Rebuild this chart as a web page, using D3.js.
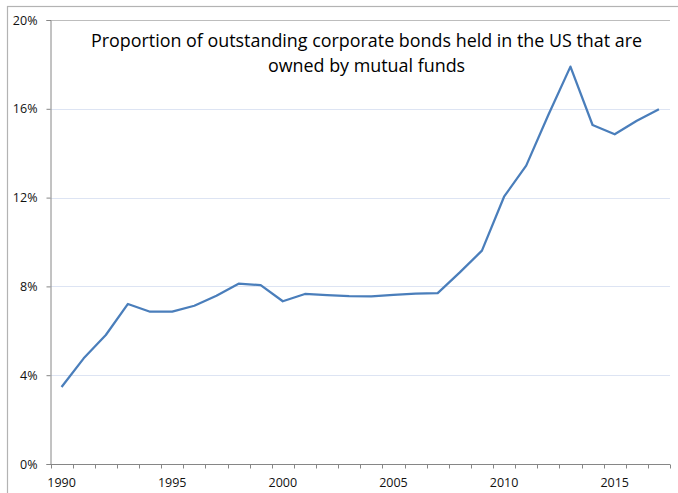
<!DOCTYPE html>
<html>
<head>
<meta charset="utf-8">
<script src="https://cdn.jsdelivr.net/npm/d3@7"></script>
<style>
  body { margin: 0; background: #fff; }
  svg { display: block; }
</style>
</head>
<body>
<div id="chart"></div>
<script>
// data
const years = d3.range(1990, 2018);
const shares = [
  3.47, 4.76, 5.81, 7.21, 6.86, 6.86, 7.13, 7.58, 8.12, 8.06,
  7.33, 7.66, 7.61, 7.56, 7.55, 7.62, 7.67, 7.70, 8.63, 9.61,
  12.04, 13.44, 15.72, 17.90, 15.27, 14.85, 15.46, 15.98
];
const yTicks = [0, 4, 8, 12, 16, 20];
const labelYears = [1990, 1995, 2000, 2005, 2010, 2015];
const titleLines = [
  "Proportion of outstanding corporate bonds held in the US that are",
  "owned by mutual funds"
];

const width = 678, height = 493;
const margin = { top: 20, right: 8, bottom: 29, left: 50.5 };

const svg = d3.select("#chart").append("svg")
  .attr("width", width)
  .attr("height", height);

// outer chart border (runs off the picture on the right and bottom)
svg.append("rect")
  .attr("x", 7.5).attr("y", 6.5)
  .attr("width", width + 10).attr("height", height + 10)
  .attr("fill", "none")
  .attr("stroke", "#b3b3b3")
  .attr("stroke-width", 1.2);

const x = d3.scaleBand()
  .domain(years)
  .range([margin.left, width - margin.right]);

const y = d3.scaleLinear()
  .domain([0, 20])
  .range([height - margin.bottom, margin.top]);

// gridlines
svg.append("g")
  .selectAll("line")
  .data(yTicks.filter(d => d > 0))
  .join("line")
  .attr("x1", margin.left)
  .attr("x2", width - margin.right)
  .attr("y1", d => Math.round(y(d)) + 0.5)
  .attr("y2", d => Math.round(y(d)) + 0.5)
  .attr("stroke", d => d === 20 ? "#bdbdbd" : "#dde4f3")
  .attr("stroke-width", 1);

// y axis
const yAxis = svg.append("g")
  .attr("transform", `translate(${margin.left},0)`)
  .call(d3.axisLeft(y).tickValues(yTicks).tickSize(4).tickPadding(9)
    .tickFormat(d => d + "%"));

// x axis, ticks between categories
const xAxisG = svg.append("g")
  .attr("transform", `translate(0,${Math.round(y(0)) + 0.5})`);

xAxisG.append("line")
  .attr("x1", margin.left).attr("x2", width - margin.right)
  .attr("stroke", "#868686");

xAxisG.selectAll("line.tick")
  .data(years.concat([null]))
  .join("line")
  .attr("class", "tick")
  .attr("x1", (d, i) => Math.round(x.range()[0] + i * x.step()) + 0.5)
  .attr("x2", (d, i) => Math.round(x.range()[0] + i * x.step()) + 0.5)
  .attr("y1", 0).attr("y2", 4)
  .attr("stroke", "#868686");

xAxisG.selectAll("text")
  .data(labelYears)
  .join("text")
  .attr("x", d => x(d) + x.bandwidth() / 2)
  .attr("y", 22)
  .attr("text-anchor", "middle")
  .attr("font-family", "Open Sans, sans-serif")
  .attr("font-size", 12.5)
  .attr("fill", "#111")
  .text(d => d);

yAxis.select(".domain").attr("stroke", "#868686");
yAxis.selectAll(".tick line").attr("stroke", "#868686");
yAxis.selectAll(".tick text")
  .attr("font-family", "Open Sans, sans-serif")
  .attr("font-size", 12.5)
  .attr("fill", "#111");

// the series
const line = d3.line()
  .x((d, i) => x(years[i]) + x.bandwidth() / 2)
  .y(d => y(d));

svg.append("path")
  .datum(shares)
  .attr("d", line)
  .attr("fill", "none")
  .attr("stroke", "#4a7ebb")
  .attr("stroke-width", 2.25)
  .attr("stroke-linejoin", "round");

// title
svg.append("g")
  .selectAll("text")
  .data(titleLines)
  .join("text")
  .attr("x", 366.5)
  .attr("y", (d, i) => 47 + i * 24.5)
  .attr("text-anchor", "middle")
  .attr("font-family", "Open Sans, sans-serif")
  .attr("font-size", 17.9)
  .attr("fill", "#000")
  .text(d => d);
</script>
</body>
</html>
